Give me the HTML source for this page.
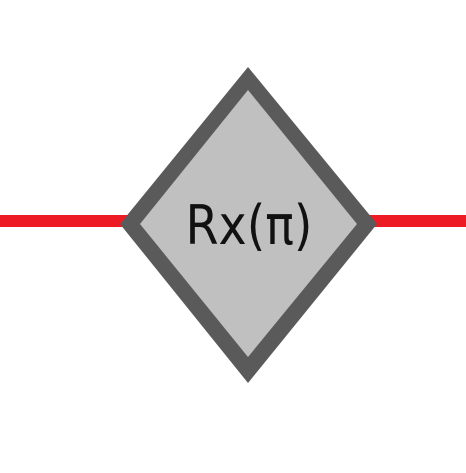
<!DOCTYPE html>
<html><head><meta charset="utf-8"><style>html,body{margin:0;padding:0;background:#fff;}svg{display:block;}</style></head>
<body>
<svg width="466" height="473" viewBox="0 0 466 473">
  <rect x="0" y="215" width="130" height="12" fill="#ed1c24"/>
  <rect x="368" y="215" width="98" height="12" fill="#ed1c24"/>
  <polygon points="248,67 377,224 248,383 120,224" fill="#5a5a5a"/>
  <polygon points="248,90 357,224 248,357 140,224" fill="#c0c0c0"/>
  <text x="249" y="244" text-anchor="middle" font-family="'DejaVu Sans','Liberation Sans',sans-serif" font-size="54" textLength="127" lengthAdjust="spacingAndGlyphs" fill="#111">Rx(π)</text>
</svg>
</body></html>
